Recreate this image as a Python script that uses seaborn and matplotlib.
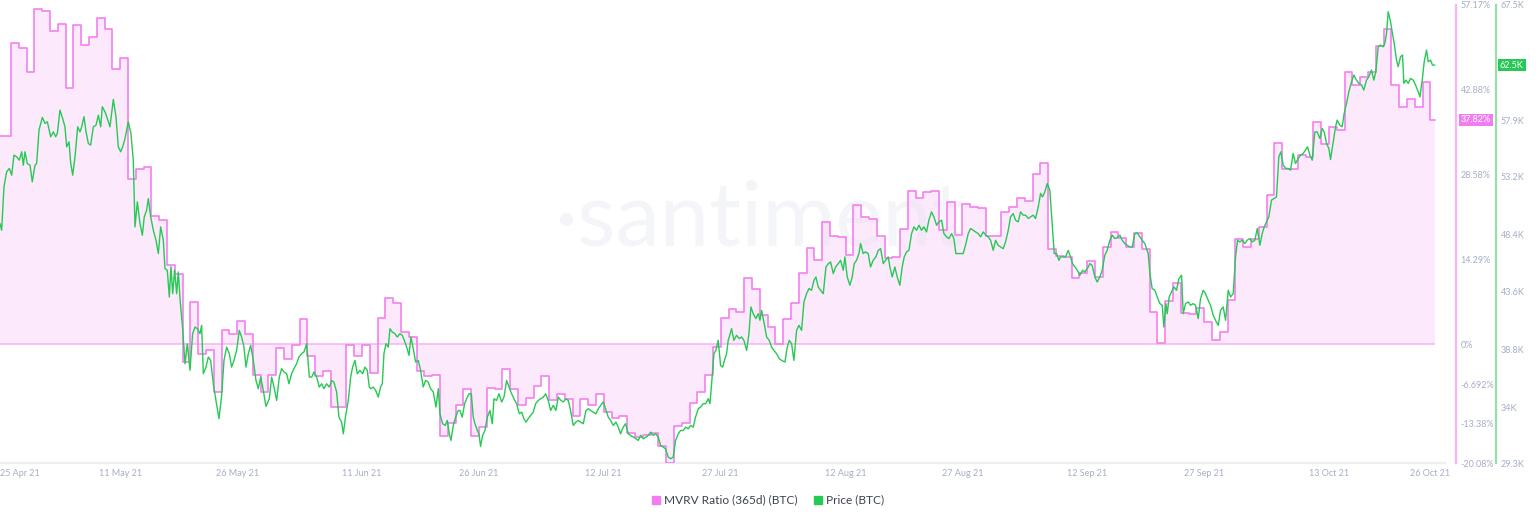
import numpy as np
import pandas as pd
import matplotlib
matplotlib.use("Agg")
import matplotlib.pyplot as plt
from matplotlib.lines import Line2D
from matplotlib.transforms import blended_transform_factory
import seaborn as sns

# daily MVRV (365d) ratio in %, from 26 Apr 2021
start = pd.Timestamp("2021-04-26")
mvrv = [35.1, 50.8, 49.9, 45.9, 56.5, 56.2, 52.8, 53.9, 43.2, 53.8,
        50.4, 51.8, 55.0, 53.1, 46.4, 48.3, 27.9, 29.6, 29.8, 21.7,
        20.9, 13.4, 11.8, -2.9, 7.1, -1.7, -0.9, -8.0, 2.4, 1.8,
        3.9, 1.8, -5.2, -8.0, -5.2, -0.7, -2.5, -0.2, 4.2, -1.9,
        -5.4, -4.5, -10.5, -10.5, -0.2, -2.0, -0.2, -4.9, 4.4, 7.8,
        7.0, 2.1, 1.3, -4.5, -5.3, -5.2, -15.5, -13.3, -10.2, -7.5,
        -15.5, -13.9, -7.4, -7.6, -4.2, -7.5, -10.2, -9.0, -7.0, -5.4,
        -9.4, -8.3, -9.2, -12.0, -9.3, -10.3, -8.4, -11.4, -12.4, -12.1,
        -15.0, -15.6, -15.2, -15.0, -17.2, -20.0, -13.8, -13.3, -9.9, -8.0,
        -5.2, -0.5, 4.5, 5.9, 5.4, 11.2, 9.4, 5.0, 2.9, 0.1,
        4.2, 7.0, 12.0, 16.3, 14.2, 20.6, 18.3, 18.1, 15.0, 23.5,
        21.4, 21.1, 18.3, 14.6, 14.7, 19.5, 25.9, 24.6, 25.6, 25.9,
        19.3, 23.9, 18.4, 23.6, 23.1, 22.9, 18.3, 18.3, 22.3, 23.2,
        24.7, 24.2, 28.7, 30.6, 16.1, 14.8, 14.7, 11.2, 12.0, 14.0,
        11.3, 16.4, 18.9, 17.9, 16.4, 18.8, 16.1, 5.4, 0.3, 7.3,
        10.3, 5.3, 5.1, 6.2, 3.7, 0.8, 2.0, 7.4, 17.7, 16.4,
        17.8, 19.7, 25.2, 33.9, 29.6, 29.6, 31.9, 31.5, 37.5, 33.8,
        36.6, 36.1, 45.8, 43.7, 45.1, 45.8, 50.2, 53.2, 43.7, 40.0,
        41.4, 40.0, 44.2, 37.82]

# BTC price (thousand USD), time in days after 26 Apr 2021
price_day = [
    -0.41, -0.20, 0.10, 0.44, 0.79, 1.09, 1.38, 1.73, 2.07, 2.37, 2.58, 2.79, 3.09, 3.44, 3.73, 4.08,
    4.29, 4.59, 5.02, 5.36, 5.66, 6.09, 6.43, 6.73, 6.94, 7.28, 7.62, 7.92, 8.14, 8.44, 8.66, 8.91,
    9.21, 9.55, 9.85, 10.06, 10.36, 10.62, 10.92, 11.21, 11.56, 11.90, 12.20, 12.50, 12.71, 13.05, 13.35, 13.69,
    14.12, 14.46, 14.76, 15.06, 15.32, 15.62, 16.04, 16.38, 16.68, 16.90, 17.20, 17.54, 17.84, 18.09, 18.39, 18.61,
    18.91, 19.25, 19.59, 19.89, 20.19, 20.53, 20.74, 21.04, 21.30, 21.51, 21.73, 21.98, 22.24, 22.45, 22.67, 23.01,
    23.31, 23.61, 23.95, 24.29, 24.59, 24.89, 25.23, 25.44, 25.66, 26.00, 26.30, 26.60, 26.94, 27.28, 27.67, 28.01,
    28.31, 28.65, 28.99, 29.29, 29.59, 29.93, 30.27, 30.57, 30.87, 31.13, 31.43, 31.73, 32.07, 32.41, 32.71, 33.01,
    33.35, 33.69, 34.12, 34.42, 34.72, 35.06, 35.40, 35.70, 36.00, 36.34, 36.64, 36.98, 37.28, 37.62, 37.92, 38.26,
    38.56, 38.91, 39.25, 39.55, 39.85, 40.19, 40.53, 40.83, 41.13, 41.47, 41.81, 42.11, 42.41, 42.75, 43.05, 43.39,
    43.61, 43.91, 44.25, 44.55, 44.80, 45.10, 45.40, 45.74, 46.09, 46.38, 46.68, 46.94,
    47.15, 47.45, 47.75, 48.09, 48.39, 48.61, 48.82, 49.08, 49.38, 49.59, 49.89, 50.23, 50.53, 50.87, 51.17, 51.43,
    51.73, 52.03, 52.28, 52.58, 52.88, 53.22, 53.52, 53.86, 54.16, 54.50, 54.80, 55.15, 55.49, 55.79, 56.00, 56.34,
    56.68, 56.94, 57.20, 57.41, 57.71, 58.01, 58.35, 58.56, 58.86, 59.16, 59.42, 59.72, 60.02, 60.27, 60.49, 60.79,
    61.00, 61.21, 61.47, 61.77, 62.07, 62.41, 62.71, 62.93, 63.26, 63.56, 63.91, 64.21, 64.55, 64.85, 65.19, 65.49,
    65.83, 66.17, 66.47, 66.77, 67.03, 67.32, 67.62, 67.97, 68.27, 68.61, 68.91, 69.25, 69.55, 69.89, 70.19, 70.53,
    70.87, 71.17, 71.51, 71.81, 72.15, 72.45, 72.75, 73.09, 73.44, 73.73, 74.03, 74.38, 74.72, 75.02, 75.32, 75.66,
    76.00, 76.30, 76.60, 76.94, 77.24, 77.58, 77.88, 78.22, 78.56, 78.86, 79.16, 79.50, 79.80, 80.15, 80.44, 80.79,
    81.13, 81.43, 81.73, 82.07, 82.41, 82.71, 83.01, 83.35, 83.65, 83.99, 84.29, 84.63, 84.93, 85.27, 85.57, 85.91,
    86.21, 86.56, 86.85, 87.20, 87.50, 87.84, 88.14, 88.48, 88.77, 89.12, 89.42, 89.76, 90.06, 90.40, 90.62, 90.83,
    91.13, 91.38, 91.68, 91.98, 92.24, 92.54, 92.75, 92.96,
    93.09, 93.39, 93.69, 94.03, 94.37, 94.67, 94.97, 95.32, 95.62, 95.87, 96.17, 96.51, 96.81, 97.03, 97.24, 97.54,
    97.88, 98.22, 98.52, 98.82, 99.16, 99.50, 99.80, 100.23, 100.53, 100.79, 101.09, 101.38, 101.73, 102.03, 102.37, 102.67,
    103.01, 103.31, 103.65, 103.95, 104.21, 104.50, 104.80, 105.15, 105.49, 105.79, 106.09, 106.43, 106.73, 107.07, 107.37, 107.71,
    107.92, 108.22, 108.56, 108.86, 109.12, 109.42, 109.72, 109.93, 110.27, 110.57, 110.91, 111.21, 111.55, 111.90, 112.20, 112.50,
    112.84, 113.14, 113.48, 113.69, 113.99, 114.33, 114.63, 114.97, 115.27, 115.53, 115.83, 116.13, 116.47, 116.77, 117.11, 117.41,
    117.75, 118.05, 118.39, 118.69, 119.03, 119.33, 119.68, 119.97, 120.32, 120.62, 120.96, 121.26, 121.60, 121.90, 122.15, 122.45,
    122.75, 123.09, 123.44, 123.73, 124.03, 124.38, 124.68, 125.02, 125.32, 125.66, 126.00, 126.30, 126.60, 126.94, 127.24, 127.58,
    127.88, 128.22, 128.52, 128.87, 129.16, 129.50, 129.80, 130.15, 130.44, 130.79, 131.09, 131.43, 131.73, 132.07, 132.37, 132.71,
    133.01, 133.26, 133.56, 133.86, 134.20, 134.50, 134.76, 135.06, 135.36, 135.57, 135.91, 136.21, 136.56, 136.85, 137.11, 137.41,
    137.71, 138.05, 138.39, 138.69, 139.12,
    139.33, 139.62, 139.97, 140.27, 140.61, 140.91, 141.25, 141.55, 141.90, 142.19, 142.54, 142.84, 143.18, 143.48, 143.82, 144.12,
    144.46, 144.76, 145.10, 145.40, 145.74, 146.04, 146.38, 146.60, 146.81, 147.03, 147.32, 147.67, 147.97, 148.31, 148.61, 148.82,
    149.08, 149.25, 149.50, 149.80, 150.10, 150.44, 150.74, 151.09, 151.30, 151.60, 151.94, 152.24, 152.58, 152.88, 153.22, 153.52,
    153.86, 154.16, 154.50, 154.80, 155.15, 155.44, 155.79, 156.09, 156.43, 156.73, 157.07, 157.37, 157.71, 158.01, 158.27, 158.56,
    158.86, 159.21, 159.50, 159.85, 160.15, 160.49, 160.79, 161.13, 161.43, 161.68, 161.98, 162.28, 162.62, 162.92, 163.26, 163.56,
    163.82, 164.12, 164.46, 164.76, 165.06, 165.40, 165.70, 166.05, 166.34, 166.68, 166.98, 167.24, 167.54, 167.84, 168.18, 168.48,
    168.82, 169.12, 169.38, 169.68, 169.98, 170.19, 170.53, 170.83, 171.04, 171.38, 171.68, 171.94, 172.24, 172.54, 172.88, 173.18,
    173.52, 173.82, 174.16, 174.46, 174.80, 175.10, 175.44, 175.74, 176.00, 176.30, 176.60, 176.94, 177.15, 177.37, 177.58, 177.88,
    178.09, 178.35, 178.65, 178.86, 179.16, 179.42, 179.59, 179.85, 180.15, 180.45, 180.79, 181.09, 181.43, 181.65, 181.95, 182.20,
    182.50, 182.71, 183.01, 183.27, 183.57]
price = [
    49.29, 48.73, 52.35, 53.60, 53.88, 53.32, 54.99, 54.85, 54.57, 55.27, 54.15, 55.27, 54.29, 54.15, 52.76, 54.15,
    54.29, 57.07, 58.13, 57.63, 57.77, 56.52, 56.93, 56.52, 56.79, 58.74, 58.05, 57.35, 55.68, 56.10, 54.29, 53.32,
    54.85, 57.35, 56.93, 57.35, 58.19, 56.93, 55.96, 55.82, 57.35, 57.49, 58.32, 57.35, 59.02, 58.60, 58.05, 57.35,
    59.63, 58.19, 55.68, 55.27, 55.68, 56.38, 57.77, 56.79, 54.57, 49.01, 51.10, 49.29, 48.32, 49.85, 50.40, 51.37,
    49.85, 48.73, 47.90, 46.79, 49.01, 47.90, 45.54, 45.40, 43.17, 45.68, 43.45, 45.40, 43.45, 45.26, 43.03, 40.53,
    37.61, 39.28, 37.06, 40.11, 40.67, 40.53, 40.11, 40.81, 36.78, 37.33, 38.17, 37.89, 35.94, 34.55, 33.03, 34.97,
    37.89, 39.00, 38.45, 37.33, 37.89, 38.72, 40.39, 39.84, 39.00, 37.33, 38.45, 39.14, 37.89, 36.22, 35.53, 36.50,
    35.39, 34.05, 34.69, 36.50, 35.67, 34.55, 36.50, 37.20, 36.92, 36.78, 35.94, 36.78, 37.20, 37.61, 38.17, 38.45,
    38.59, 39.28, 36.50, 36.50, 36.92, 36.50, 35.67, 35.94, 35.53, 35.94, 35.67, 36.22, 36.08, 35.25, 33.16, 32.75,
    31.77, 33.30, 34.55, 36.50, 37.33, 37.89, 36.78, 37.06, 36.78, 37.33, 37.06, 35.67,
    35.53, 35.67, 35.39, 34.83, 35.67, 35.94, 38.45, 39.28, 39.00, 40.53, 40.25, 40.11, 39.84, 40.11, 39.98, 39.56,
    39.00, 38.31, 39.84, 38.86, 37.75, 37.89, 37.06, 35.67, 36.22, 36.08, 35.53, 35.25, 34.00, 35.53, 33.44, 32.61,
    32.47, 32.89, 31.77, 31.22, 32.47, 33.16, 33.72, 33.72, 33.16, 34.28, 34.69, 35.11, 35.11, 33.16, 32.61, 32.05,
    31.77, 30.72, 31.64, 32.05, 33.16, 33.72, 32.61, 34.69, 34.55, 35.11, 34.42, 34.83, 36.22, 35.67, 35.11, 34.69,
    34.28, 33.44, 33.58, 33.03, 32.75, 33.03, 33.30, 33.58, 34.28, 34.55, 34.69, 34.83, 35.11, 34.55, 33.72, 34.14,
    33.72, 34.83, 34.55, 34.42, 34.69, 34.55, 33.72, 32.47, 32.75, 32.89, 32.75, 32.61, 33.72, 33.86, 33.72, 33.58,
    33.44, 33.86, 34.14, 34.42, 33.86, 33.16, 32.89, 32.47, 32.75, 32.33, 31.77, 32.33, 32.61, 31.77, 31.64, 31.50,
    31.36, 31.22, 31.64, 31.36, 31.50, 31.64, 31.91, 31.64, 31.77, 31.50, 30.80, 30.66, 30.52, 29.83, 29.69, 29.83,
    31.22, 31.77, 32.05, 32.05, 32.33, 32.19, 32.47, 32.33, 33.16, 33.86, 34.00, 34.28, 34.28, 34.69, 34.28, 35.94,
    38.45, 38.72, 39.56, 37.47, 37.33, 38.03, 38.45, 39.56,
    39.84, 40.53, 39.56, 39.98, 39.70, 39.84, 39.56, 38.72, 40.11, 42.34, 41.78, 41.37, 41.78, 41.23, 42.06, 41.09,
    39.84, 39.56, 39.00, 38.72, 38.45, 38.03, 37.89, 37.75, 39.00, 39.56, 39.28, 37.89, 40.39, 40.81, 40.39, 42.76,
    43.45, 43.87, 43.73, 44.56, 44.84, 44.01, 43.73, 43.45, 45.67, 45.95, 46.09, 45.12, 45.67, 45.95, 46.23, 45.40,
    46.51, 44.84, 44.15, 44.84, 45.95, 46.23, 46.79, 47.62, 46.79, 46.93, 46.79, 45.67, 46.23, 46.51, 47.06, 47.20,
    45.95, 46.23, 46.51, 45.67, 44.84, 45.67, 44.84, 44.15, 45.67, 46.51, 46.93, 47.06, 48.45, 49.01, 48.73, 49.15,
    48.73, 49.01, 48.59, 49.57, 50.26, 49.85, 49.15, 49.43, 49.57, 48.45, 48.18, 48.04, 48.45, 48.04, 46.79, 46.79,
    46.79, 46.79, 47.62, 48.45, 48.87, 48.73, 48.59, 48.45, 48.18, 48.59, 48.32, 48.18, 47.90, 47.06, 47.90, 47.48,
    47.34, 47.20, 47.76, 48.73, 49.85, 50.12, 49.57, 49.43, 50.26, 49.99, 49.99, 49.71, 49.85, 49.99, 49.71, 50.68,
    51.79, 51.51, 51.93, 52.62, 52.07, 49.29, 46.79, 46.79, 46.23, 46.51, 46.51, 46.51, 47.06, 46.51, 45.95, 45.67,
    45.40, 44.98, 45.40, 45.26, 45.67,
    45.95, 45.81, 44.84, 44.42, 44.84, 45.40, 46.65, 47.06, 47.90, 48.32, 48.04, 48.12, 48.32, 47.90, 47.62, 47.48,
    47.34, 47.34, 48.45, 48.51, 48.18, 47.90, 47.62, 47.20, 46.79, 45.12, 43.87, 43.73, 43.17, 42.62, 42.48, 40.67,
    42.62, 41.78, 43.17, 43.59, 44.01, 43.73, 44.70, 44.98, 41.78, 42.62, 42.76, 42.48, 42.62, 42.48, 41.37, 43.03,
    43.73, 43.45, 42.90, 42.48, 41.64, 41.23, 40.81, 42.06, 42.34, 41.23, 43.73, 43.17, 43.45, 46.51, 47.90, 47.76,
    47.90, 47.62, 47.90, 48.04, 47.76, 47.90, 48.87, 47.48, 48.45, 49.01, 49.43, 49.85, 51.24, 51.37, 51.51, 54.85,
    55.27, 54.15, 53.88, 53.88, 53.74, 55.13, 54.29, 54.71, 54.99, 55.13, 55.41, 55.68, 54.99, 54.57, 56.93, 56.93,
    56.38, 57.21, 56.93, 55.96, 55.54, 54.62, 56.10, 57.35, 57.91, 57.49, 57.35, 58.46, 59.30, 60.27, 61.10, 61.66,
    61.24, 60.97, 60.83, 60.41, 61.24, 61.52, 62.08, 61.24, 61.94, 64.02, 64.16, 64.02, 64.30, 65.13, 66.94, 66.11,
    65.27, 64.30, 62.91, 62.36, 63.19, 63.33, 60.97, 61.24, 60.97, 61.38, 61.24, 60.83, 60.27, 59.85, 61.24, 62.77,
    63.74, 62.77, 62.91, 62.49, 62.49]

mvrv_ticks = [-20.08, -13.38, -6.692, 0, 14.29, 28.58, 42.88, 57.17]
price_ticks = [29.3, 34, 38.8, 43.6, 48.4, 53.2, 57.9, 62.7, 67.5]
date_ticks = ["2021-05-11", "2021-05-26", "2021-06-11", "2021-06-26", "2021-07-12",
              "2021-07-27", "2021-08-12", "2021-08-27", "2021-09-12", "2021-09-27",
              "2021-10-13", "2021-10-26"]

PINK = "#f57ff1"
PINK_FILL = "#fce9fc"
GREEN = "#26c953"
TICK_COLOR = "#a6adc6"

mvrv_dates = pd.date_range(start, periods=len(mvrv), freq="D")
price_df = pd.DataFrame({"time": start + pd.to_timedelta(price_day, unit="D"), "price": price})

# step edges: window start, daily changes, window end
edges = [price_df["time"].iloc[0]] + list(mvrv_dates[1:]) + [price_df["time"].iloc[-1]]
mvrv_df = pd.DataFrame({"time": edges, "mvrv": mvrv + [mvrv[-1]]})

sns.set_style("white")
plt.rcParams["font.family"] = ["Lato", "DejaVu Sans"]

fig = plt.figure(figsize=(15.36, 5.2), dpi=100)
ax = fig.add_axes([0.0, 0.1087, 0.9408, 0.8817])
ax2 = ax.twinx()

ax.fill_between(mvrv_df["time"], mvrv_df["mvrv"], 0, step="post", color=PINK_FILL, lw=0, zorder=1)
ax.hlines(0, edges[0], edges[-1], color="#f8b2f5", lw=1.1, zorder=2)
sns.lineplot(data=mvrv_df, x="time", y="mvrv", ax=ax, color=PINK, lw=1.2,
             drawstyle="steps-post", zorder=3)

# watermark
ax.text(0.525, 0.53, "\u00b7santiment", transform=ax.transAxes, fontsize=64,
        fontweight="normal", color="#dde1ee", alpha=0.32, ha="center", va="center", zorder=2.5)

ax.set_ylim(mvrv_ticks[0], mvrv_ticks[-1])
ax.set_yticks(mvrv_ticks)
ax.set_yticklabels([f"{v:g}%" for v in mvrv_ticks])
ax.yaxis.tick_right()
ax.yaxis.set_label_position("right")
ax.set_ylabel("")
ax.set_xlabel("")

ax.set_xlim(edges[0], pd.Timestamp("2021-10-27 21:00"))
xt = [edges[0]] + [pd.Timestamp(d) for d in date_ticks]
ax.set_xticks(xt)
ax.set_xticklabels([t.strftime("%d %b %y") for t in xt])
ax.get_xticklabels()[0].set_ha("left")

for s in ["top", "left"]:
    ax.spines[s].set_visible(False)
ax.spines["bottom"].set_color("#eceef4")
ax.spines["bottom"].set_linewidth(1.6)
ax.spines["right"].set_visible(True)
ax.spines["right"].set_position(("outward", 8))
ax.spines["right"].set_color("#f8b4f5")
ax.spines["right"].set_linewidth(1.6)
ax.tick_params(axis="both", length=0, labelsize=6.5, labelcolor=TICK_COLOR)
ax.tick_params(axis="x", pad=4)
ax.tick_params(axis="y", pad=3.2)

sns.lineplot(data=price_df, x="time", y="price", ax=ax2, color=GREEN, lw=1.0, zorder=4)
ax2.set_ylim(price_ticks[0], price_ticks[-1])
ax2.set_yticks(price_ticks)
ax2.set_yticklabels([f"{v:g}K" for v in price_ticks])
ax2.set_ylabel("")
for s in ["top", "left", "bottom"]:
    ax2.spines[s].set_visible(False)
ax2.spines["right"].set_position(("outward", 36.7))
ax2.spines["right"].set_color("#95e0a6")
ax2.spines["right"].set_linewidth(1.6)
ax2.tick_params(axis="y", length=0, labelsize=6.5, labelcolor=TICK_COLOR, pad=3.2)

# last value badges
tr1 = blended_transform_factory(ax.transAxes, ax.transData)
ax.text(1.011, mvrv[-1], f"{mvrv[-1]:.2f}%", transform=tr1, fontsize=6.5, color="white",
        va="center", ha="left", zorder=10,
        bbox=dict(boxstyle="square,pad=0.2", fc="#f27df0", ec="none"))
tr2 = blended_transform_factory(ax2.transAxes, ax2.transData)
ax2.text(1.038, price[-1], f"{price[-1]:.1f}K", transform=tr2, fontsize=6.5, color="white",
         va="center", ha="left", zorder=10,
         bbox=dict(boxstyle="square,pad=0.2", fc=GREEN, ec="none"))

handles = [Line2D([], [], marker="s", ls="none", ms=6, color="#f47cf2"),
           Line2D([], [], marker="s", ls="none", ms=6, color=GREEN)]
fig.legend(handles, ["MVRV Ratio (365d) (BTC)", "Price (BTC)"], loc="center",
           bbox_to_anchor=(0.5, 0.038), ncol=2, frameon=False, fontsize=8.6,
           handlelength=0.7, handletextpad=0.35, columnspacing=1.3, labelcolor="#3c4252")

fig.savefig("out.png", dpi=100)
